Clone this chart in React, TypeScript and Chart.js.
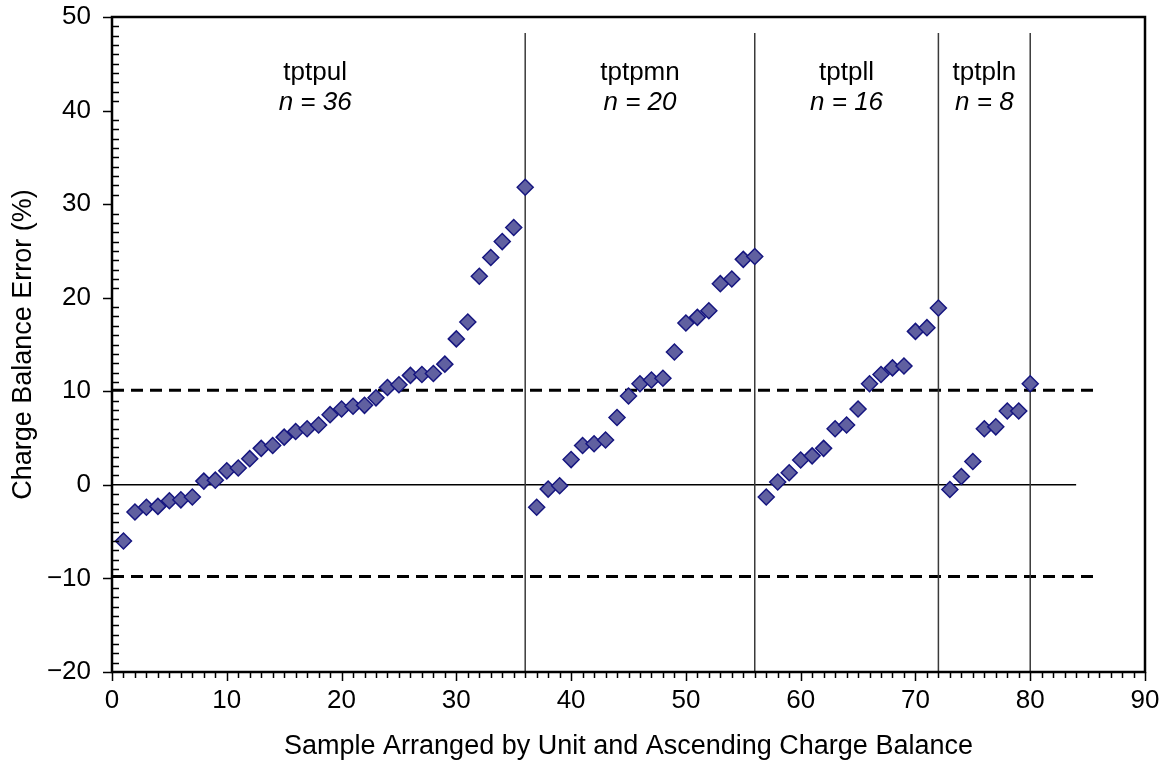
import React, { useEffect, useRef } from 'react';
import { Chart, registerables } from 'chart.js';

Chart.register(...registerables);

// Charge balance error (%) per sample, grouped by unit, ascending
const ulValues = [-6.0, -2.9, -2.4, -2.3, -1.7, -1.6, -1.3, 0.4, 0.5, 1.5, 1.8, 2.8, 3.9, 4.2, 5.1, 5.7, 6.0, 6.4, 7.5, 8.1, 8.4, 8.5, 9.3, 10.4, 10.7, 11.7, 11.8, 11.9, 12.9, 15.6, 17.4, 22.3, 24.3, 26.0, 27.5, 31.8];
const mnValues = [-2.4, -0.45, -0.1, 2.7, 4.2, 4.4, 4.8, 7.2, 9.5, 10.8, 11.2, 11.4, 14.2, 17.3, 17.9, 18.6, 21.5, 22.0, 24.1, 24.4];
const llValues = [-1.3, 0.3, 1.3, 2.65, 3.1, 3.9, 6.0, 6.4, 8.1, 10.8, 11.8, 12.5, 12.7, 16.4, 16.8, 18.9];
const lnValues = [-0.5, 0.9, 2.5, 6.0, 6.2, 7.9, 7.9, 10.8];

const unitNames = ['tptpul', 'tptpmn', 'tptpll', 'tptpln'];
const unitCounts = ['n = 36', 'n = 20', 'n = 16', 'n = 8'];
const unitLabelX = [17.7, 46, 64, 76];
const unitNameY = 43.3;
const unitCountY = 40.1;

const boundaryX = [36, 56, 72, 80];
const boundaryBottom = -20;
const boundaryTop = 48.3;

const zeroLineX = [0, 84];
const zeroLineY = 0;
const dashLineX = [0, 85.5];
const upperDashY = 10.1;
const lowerDashY = -9.8;

const xMin = 0, xMax = 90, xStep = 10;
const yMin = -20, yMax = 50, yStep = 10;

const xTitle = 'Sample Arranged by Unit and Ascending Charge Balance';
const yTitle = 'Charge Balance Error (%)';

const FONT = '"Liberation Sans", Arial, Helvetica, sans-serif';

const allValues = [...ulValues, ...mnValues, ...llValues, ...lnValues];
const points = allValues.map((v, i) => ({ x: i + 1, y: v }));

const framePlugin = {
  id: 'frameAndTicks',
  afterDraw(chart: any) {
    const { ctx, chartArea, scales } = chart;
    const { left, right, top, bottom } = chartArea;
    const xs = scales.x;
    const ys = scales.y;
    ctx.save();
    ctx.strokeStyle = '#000';
    ctx.lineWidth = 1.5;
    ctx.beginPath();
    for (let v = yMin; v <= yMax; v += 1) {
      const py = Math.round(ys.getPixelForValue(v)) + 0.5;
      if (v % yStep === 0) {
        ctx.moveTo(left - 9, py);
        ctx.lineTo(left, py);
      } else {
        ctx.moveTo(left, py);
        ctx.lineTo(left + 7, py);
      }
    }
    for (let v = xMin; v <= xMax; v += 1) {
      const px = Math.round(xs.getPixelForValue(v)) + 0.5;
      ctx.moveTo(px, bottom);
      ctx.lineTo(px, bottom + (v % xStep === 0 ? 9 : 6));
    }
    ctx.stroke();
    ctx.lineWidth = 2.5;
    ctx.strokeRect(left, top, right - left, bottom - top);
    ctx.restore();
  },
  afterDatasetsDraw(chart: any) {
    const { ctx, scales } = chart;
    const xs = scales.x;
    const ys = scales.y;
    ctx.save();
    ctx.fillStyle = '#000';
    ctx.textAlign = 'center';
    ctx.textBaseline = 'alphabetic';
    unitNames.forEach((name, i) => {
      const px = xs.getPixelForValue(unitLabelX[i]);
      ctx.font = `26px ${FONT}`;
      ctx.fillText(name, px, ys.getPixelForValue(unitNameY));
      ctx.font = `italic 26px ${FONT}`;
      ctx.fillText(unitCounts[i], px, ys.getPixelForValue(unitCountY));
    });
    ctx.restore();
  },
};

const zeroPad = (scale: any) => {
  scale.paddingTop = 0;
  scale.paddingBottom = 0;
  scale.paddingLeft = 0;
  scale.paddingRight = 0;
};

export default function App() {
  const canvasRef = useRef<HTMLCanvasElement | null>(null);

  useEffect(() => {
    document.body.style.margin = '0';
    const canvas = canvasRef.current;
    if (!canvas) return;

    const lineSets: any[] = [];
    boundaryX.forEach((bx) => {
      lineSets.push({
        data: [{ x: bx, y: boundaryBottom }, { x: bx, y: boundaryTop }],
        showLine: true,
        borderColor: '#3a3a3a',
        borderWidth: 1.5,
        pointRadius: 0,
        order: 2,
      });
    });
    lineSets.push({
      data: [{ x: zeroLineX[0], y: zeroLineY }, { x: zeroLineX[1], y: zeroLineY }],
      showLine: true,
      borderColor: '#000',
      borderWidth: 1.5,
      pointRadius: 0,
      order: 2,
    });
    [upperDashY, lowerDashY].forEach((dy) => {
      lineSets.push({
        data: [{ x: dashLineX[0], y: dy }, { x: dashLineX[1], y: dy }],
        showLine: true,
        borderColor: '#000',
        borderWidth: 3,
        borderDash: [12, 7],
        pointRadius: 0,
        order: 2,
      });
    });

    const chart = new Chart(canvas, {
      type: 'scatter',
      data: {
        datasets: [
          {
            label: 'Charge balance error',
            data: points,
            pointStyle: 'rectRot',
            pointRadius: 8,
            pointBackgroundColor: 'rgb(96,96,160)',
            pointBorderColor: 'rgb(22,22,128)',
            pointBorderWidth: 1.5,
            showLine: false,
            order: 0,
          },
          ...lineSets,
        ],
      },
      options: {
        responsive: false,
        animation: false,
        devicePixelRatio: 1,
        layout: { padding: { top: 17, right: 20, left: 0, bottom: 0 } },
        plugins: {
          legend: { display: false },
          tooltip: { enabled: false },
        },
        scales: {
          x: {
            type: 'linear',
            min: xMin,
            max: xMax,
            grid: { display: false, drawTicks: false },
            border: { display: false },
            ticks: {
              stepSize: xStep,
              color: '#000',
              padding: 13,
              font: { family: FONT, size: 26 },
            },
            title: {
              display: true,
              text: xTitle,
              color: '#000',
              font: { family: FONT, size: 27 },
              padding: { top: 0, bottom: 1 },
            },
            afterFit: (scale: any) => {
              scale.height = 92;
              zeroPad(scale);
            },
          },
          y: {
            type: 'linear',
            min: yMin,
            max: yMax,
            grid: { display: false, drawTicks: false },
            border: { display: false },
            ticks: {
              stepSize: yStep,
              color: '#000',
              padding: 21,
              font: { family: FONT, size: 26 },
              callback: (v: any) => (Number(v) < 0 ? '\u2212' + Math.abs(Number(v)) : String(v)),
            },
            title: {
              display: true,
              text: yTitle,
              color: '#000',
              font: { family: FONT, size: 27 },
              padding: { top: 7, bottom: 0 },
            },
            afterFit: (scale: any) => {
              scale.width = 112;
              zeroPad(scale);
            },
          },
        },
      },
      plugins: [framePlugin],
    });

    return () => {
      chart.destroy();
    };
  }, []);

  return (
    <div style={{ width: 1165, height: 764 }}>
      <canvas ref={canvasRef} width={1165} height={764} style={{ display: 'block' }} />
    </div>
  );
}
